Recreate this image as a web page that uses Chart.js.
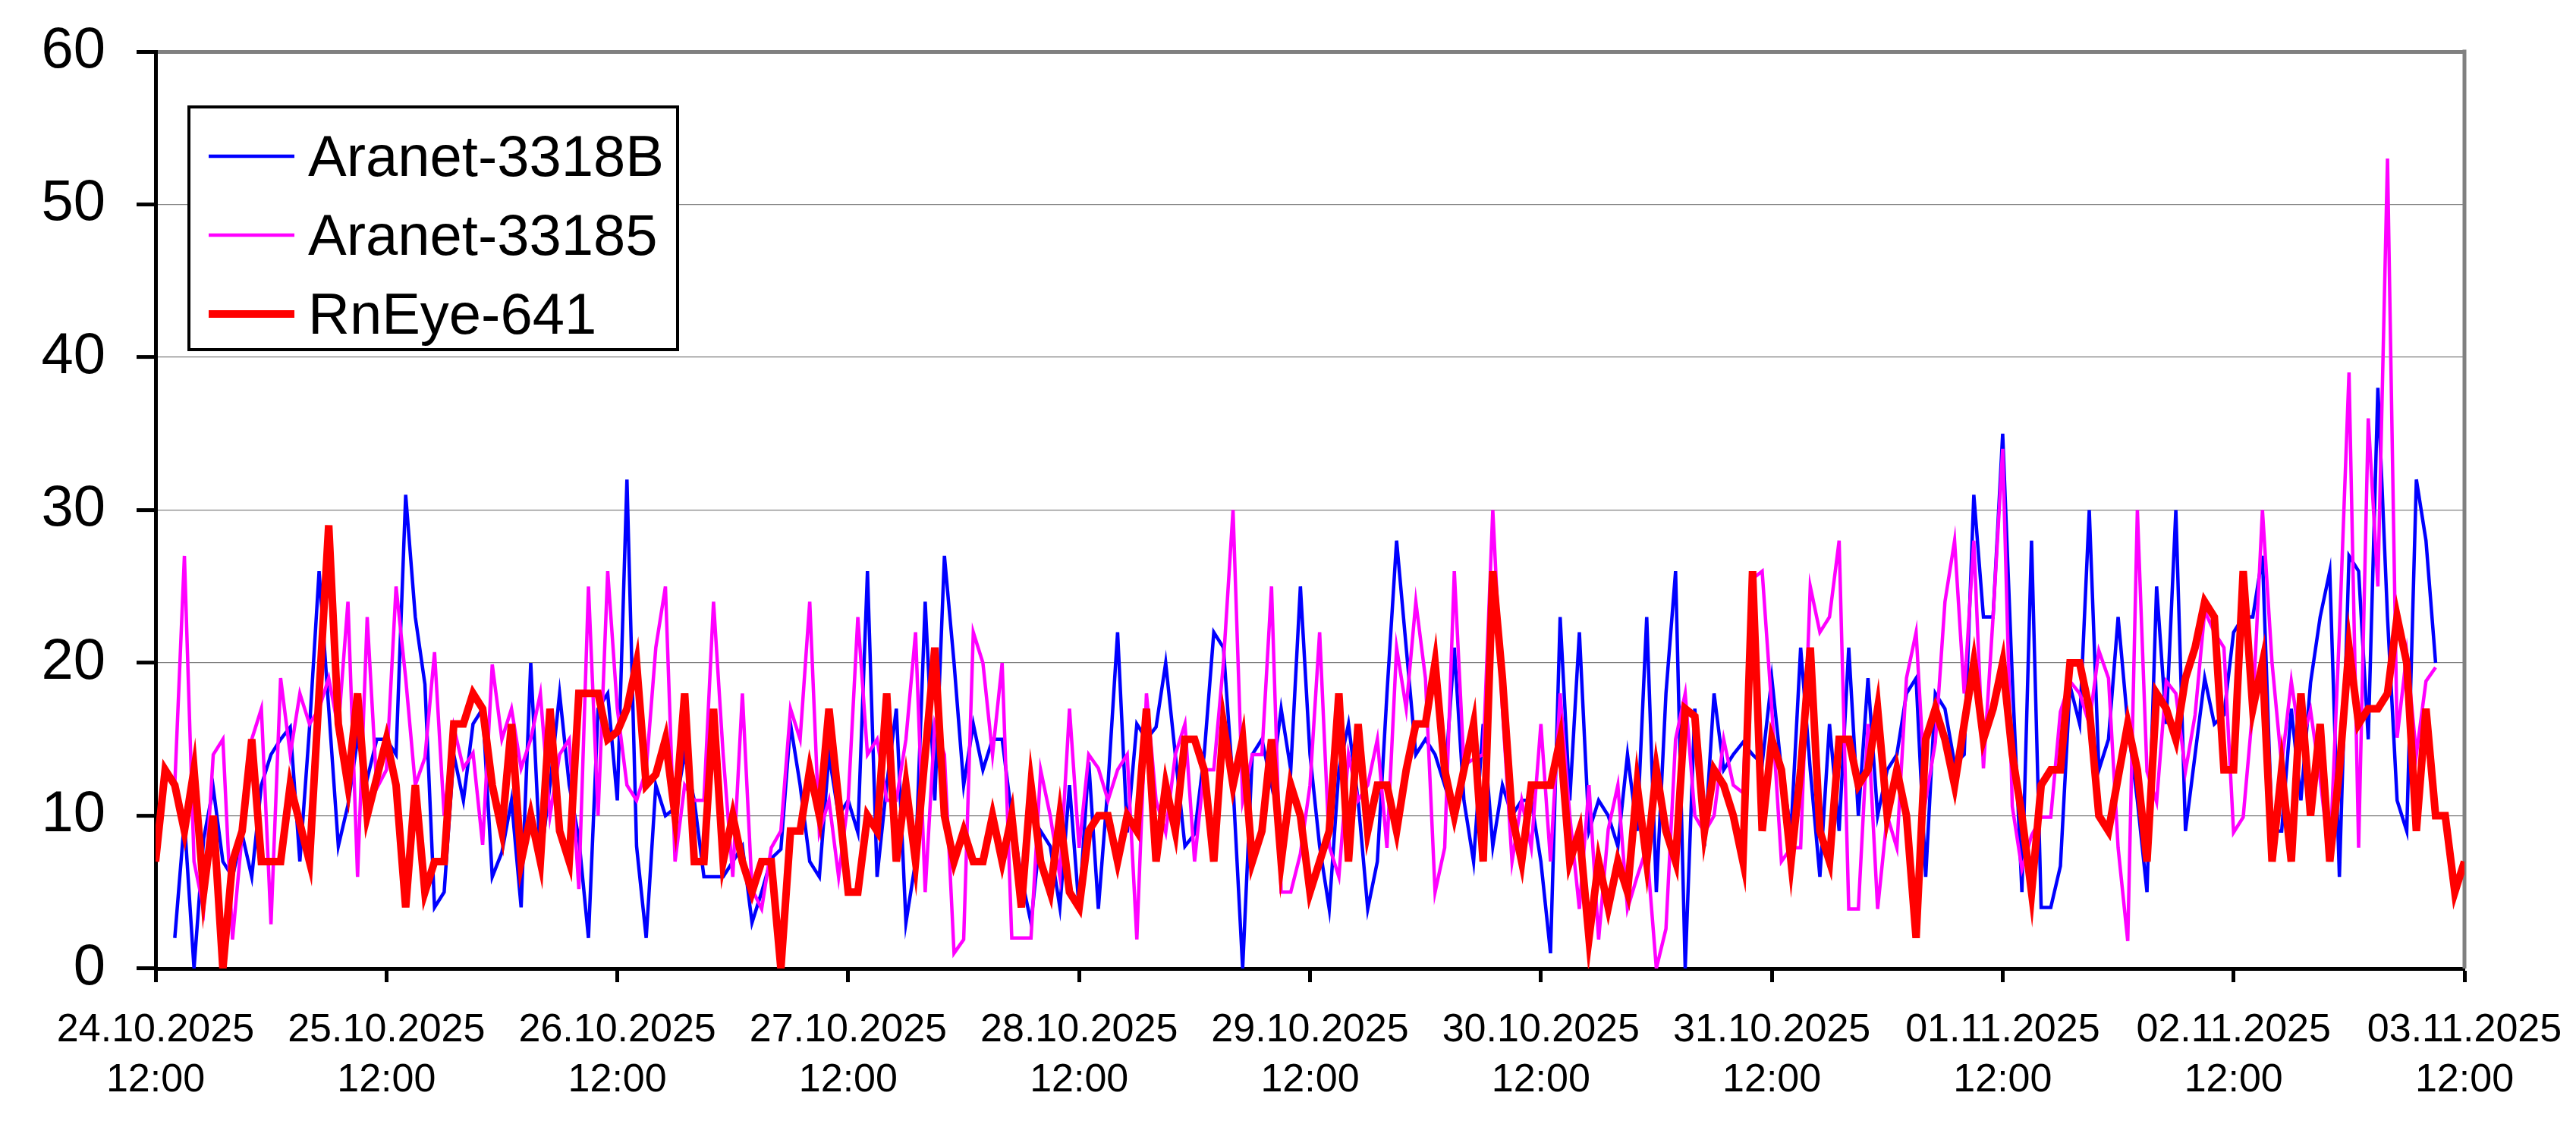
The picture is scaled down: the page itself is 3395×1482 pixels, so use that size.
<!DOCTYPE html>
<html>
<head>
<meta charset="utf-8">
<title>Radon</title>
<script src="https://cdn.jsdelivr.net/npm/chart.js@4.4.1/dist/chart.umd.min.js"></script>
<style>
  html, body { margin: 0; padding: 0; background: #fff; }
  canvas { display: block; }
</style>
</head>
<body>
<canvas id="radon-chart" width="3395" height="1482"></canvas>
<script>
// --- Data (hourly readings, hour 0 = 24.10.2025 12:00) ---
const dayLabels = ['24.10.2025', '25.10.2025', '26.10.2025', '27.10.2025', '28.10.2025', '29.10.2025',
  '30.10.2025', '31.10.2025', '01.11.2025', '02.11.2025', '03.11.2025'];
const timeLabel = '12:00';

const aranetBStart = 2;
const aranetB = [
  2, 9.7, 0, 8.5, 11.8, 7, 6, 8.8,
  6, 12, 14, 15, 15.8, 7, 15.7, 26, 17, 8,
  10.7, 15, 12.4, 15, 15, 14, 31, 23, 18.6, 4,
  5, 14, 11, 16, 17, 6, 7.6, 11, 4, 20,
  7, 12, 18, 12, 8.5, 2, 17, 18, 11, 32,
  8, 2, 12, 10, 10.5, 14, 11, 6, 6, 6,
  7, 8, 3, 5, 7.2, 7.8, 16, 12, 7, 6,
  14, 10, 11, 8.9, 26, 6, 12, 17, 3, 7,
  24, 11, 27, 20, 12, 16, 13, 15, 15, 10,
  6, 3, 9, 8, 4, 12, 3.9, 13.5, 3.9, 12,
  22, 8.9, 16, 15, 15.8, 20, 14, 8, 8.8, 14,
  22, 21, 12, 0, 14, 15, 12, 17, 13, 25,
  14, 8, 3.9, 13, 16, 11, 3.9, 7, 18, 28,
  21, 14, 15, 14, 12, 21, 11, 7, 16, 8,
  12, 10, 11, 11, 7, 1, 23, 11, 22, 9,
  11, 10, 8, 14, 9, 23, 5, 18, 26, 0,
  17, 8, 18, 13, 14, 14.8, 14, 13.4, 19, 13,
  9, 21, 13, 6, 16, 9, 21, 10, 19, 10,
  13, 14, 18, 19, 6, 18, 17, 13.4, 14, 31,
  23, 23, 35, 19, 5, 28, 4, 4, 6.7, 18.5,
  16, 30, 13, 15, 23, 16, 11, 5, 25, 16,
  30, 9, 14, 19, 16, 16.6, 22, 23, 23, 27,
  9, 9, 17, 11, 18.7, 23, 26, 6, 27, 26,
  15, 38, 23, 11, 9, 32, 28, 20
];

const aranet5Start = 2;
const aranet5 = [
  12, 27, 7, 3.9, 14, 15, 1.9, 8.8,
  15, 17, 2.9, 19, 14, 18, 16, 17, 19, 15.7,
  24, 6, 23, 11.8, 13, 25, 19, 12, 13.8, 20.7,
  10, 15.8, 13.1, 14.1, 8.1, 19.9, 15, 17, 13.1, 15,
  18, 10, 14, 15, 5.2, 25, 10, 26, 17, 12,
  11, 13, 21, 25, 7, 12, 11, 11, 24, 14,
  6, 18, 5.2, 3.9, 7.9, 9, 17, 15, 24, 8.9,
  11, 6, 11, 23, 14, 15, 11, 11, 15, 22,
  5, 16, 14, 1, 1.9, 22, 20, 14, 20, 2,
  2, 2, 13, 10, 6, 17, 7.9, 14, 13.1, 11,
  13, 14, 1.9, 18, 11, 8.9, 14, 16, 7, 13,
  13, 20, 30, 11, 14, 14, 25, 5, 5, 7.5,
  12, 22, 8, 6, 14, 11, 12, 15, 7.9, 21,
  17, 24, 19, 5, 7.9, 26, 13.3, 13.7, 14, 30,
  17, 7, 11, 7.9, 16, 7, 18, 10, 3.9, 12,
  1.9, 9.1, 12, 3.9, 6, 7.9, 0, 2.6, 15, 18,
  10, 8.9, 10, 15, 12, 11.5, 25.5, 26, 17, 7,
  7.9, 7.9, 25, 22, 23, 28, 3.9, 3.9, 16, 3.9,
  10, 7.9, 19, 22, 11, 14.8, 24, 28, 18, 28,
  13.1, 23, 34, 10.6, 6.5, 8.7, 9.9, 9.9, 16.8, 18.8,
  18, 16, 20.8, 19, 7.9, 1.8, 30, 12.9, 10.9, 18.8,
  18, 12.9, 16.6, 23.4, 22, 21, 8.9, 9.9, 17, 30,
  20, 13.3, 18.8, 14.5, 16.9, 12.4, 7, 22, 39, 7.9,
  36, 25, 53, 15.1, 20.6, 14, 18.8, 19.7
];

const rnEyeStart = 0;
const rnEye = [
  7, 13, 12, 9, 13, 5, 10, 0, 7, 9,
  15, 7, 7, 7, 12, 9.5, 7, 18, 29, 16,
  12, 18, 10, 12.5, 15, 12, 4, 12, 5, 7,
  7, 16, 16, 18, 17, 12, 9, 16, 7, 10,
  7, 17, 9, 7, 18, 18, 18, 15, 15.5, 17,
  20, 12, 12.7, 15, 10, 18, 7, 7, 17, 7,
  10, 7, 5, 7, 7, 0, 9, 9, 13, 10,
  17, 11, 5, 5, 10, 9, 18, 7, 12, 7,
  14, 21, 10, 7, 9, 7, 7, 10, 7, 10,
  4, 12, 7, 5, 10, 5, 4, 9, 10, 10,
  7, 10, 9, 17, 7, 12, 9, 15, 15, 13,
  7, 16, 12, 15, 7, 9, 15, 7, 12, 10,
  5, 7, 9, 18, 7, 16, 9, 12, 12, 9,
  13, 16, 16, 20, 13, 10, 13, 16, 7, 26,
  19, 10, 7, 12, 12, 12, 15, 7, 9, 2,
  7, 4, 7, 5, 12, 7, 13, 9, 7, 17,
  16.5, 9, 13, 12, 10, 7, 26, 9, 15, 13,
  7, 13, 21, 9, 7, 15, 15, 12, 13, 17,
  10, 13, 10, 2, 15, 17, 15, 12, 16, 20,
  15, 17, 20, 14, 10, 5, 12, 13, 13, 20,
  20, 17, 10, 9, 12.5, 16, 13, 7, 18, 17,
  15, 19, 21, 24, 23, 13, 13, 26, 17, 20,
  7, 13, 7, 18, 10, 16, 7, 13, 21, 16,
  17, 17, 18, 23, 20, 9, 17, 10, 10, 5,
  7
];

const fontFamily = "'Liberation Sans', Arial, sans-serif";

function toPoints(values, start) {
  return values.map((v, i) => ({ x: start + i, y: v }));
}

// --- Legend drawn as a framed box inside the plot ---
const boxLegend = {
  id: 'boxLegend',
  afterDraw(chart) {
    const ctx = chart.ctx;
    const area = chart.chartArea;
    const x = area.left + 44;
    const y = area.top + 73;
    ctx.save();
    ctx.fillStyle = '#fff';
    ctx.fillRect(x, y, 644, 320);
    ctx.lineWidth = 4;
    ctx.strokeStyle = '#000';
    ctx.strokeRect(x, y, 644, 320);
    ctx.font = '76px ' + fontFamily;
    ctx.textBaseline = 'alphabetic';
    chart.data.datasets.forEach((ds, i) => {
      const ly = y + 65 + i * 104;
      ctx.strokeStyle = ds.borderColor;
      ctx.lineWidth = ds.borderWidth;
      ctx.beginPath();
      ctx.moveTo(x + 26, ly);
      ctx.lineTo(x + 139, ly);
      ctx.stroke();
      ctx.fillStyle = '#000';
      ctx.fillText(ds.label, x + 157, ly + 26);
    });
    ctx.restore();
  }
};

// --- Grey frame on the right side of the plot ---
const rightFrame = {
  id: 'rightFrame',
  beforeDatasetsDraw(chart) {
    const ctx = chart.ctx;
    const area = chart.chartArea;
    ctx.save();
    ctx.strokeStyle = '#808080';
    ctx.lineWidth = 5;
    ctx.beginPath();
    ctx.moveTo(area.right, area.top - 2.5);
    ctx.lineTo(area.right, area.bottom);
    ctx.stroke();
    ctx.restore();
  }
};

const ctx = document.getElementById('radon-chart').getContext('2d');
const radonChart = new Chart(ctx, {
  type: 'line',
  data: {
    datasets: [
      {
        label: 'Aranet-3318B',
        data: toPoints(aranetB, aranetBStart),
        borderColor: '#0000ff',
        borderWidth: 4.5,
        pointRadius: 0,
        order: 2
      },
      {
        label: 'Aranet-33185',
        data: toPoints(aranet5, aranet5Start),
        borderColor: '#ff00ff',
        borderWidth: 4.5,
        pointRadius: 0,
        order: 1
      },
      {
        label: 'RnEye-641',
        data: toPoints(rnEye, rnEyeStart),
        borderColor: '#ff0000',
        borderWidth: 10,
        pointRadius: 0,
        order: 0
      }
    ]
  },
  options: {
    responsive: false,
    animation: false,
    devicePixelRatio: 1,
    layout: { padding: { top: 68, right: 147, left: 0, bottom: 0 } },
    plugins: {
      legend: { display: false },
      tooltip: { enabled: false }
    },
    scales: {
      x: {
        type: 'linear',
        min: 0,
        max: 240,
        afterFit: s => {
          s.height = 205;
          s.paddingLeft = 0;
          s.paddingRight = 0;
        },
        ticks: {
          stepSize: 24,
          autoSkip: false,
          maxRotation: 0,
          padding: 31,
          color: '#000',
          font: { family: fontFamily, size: 52, lineHeight: 1.27 },
          callback: v => [dayLabels[Math.round(v / 24)], timeLabel]
        },
        grid: {
          drawOnChartArea: false,
          tickLength: 18,
          tickWidth: 5,
          tickColor: '#000'
        },
        border: { color: '#000', width: 5 }
      },
      y: {
        min: 0,
        max: 60,
        afterFit: s => {
          s.width = 205;
          s.paddingTop = 0;
          s.paddingBottom = 0;
        },
        ticks: {
          stepSize: 10,
          padding: 41,
          color: '#000',
          font: { family: fontFamily, size: 76 }
        },
        grid: {
          color: '#808080',
          lineWidth: c => (c.tick && c.tick.value === 60 ? 5 : 1.2),
          tickLength: 25,
          tickWidth: 5,
          tickColor: '#000'
        },
        border: { color: '#000', width: 5 }
      }
    }
  },
  plugins: [rightFrame, boxLegend]
});
</script>
</body>
</html>
